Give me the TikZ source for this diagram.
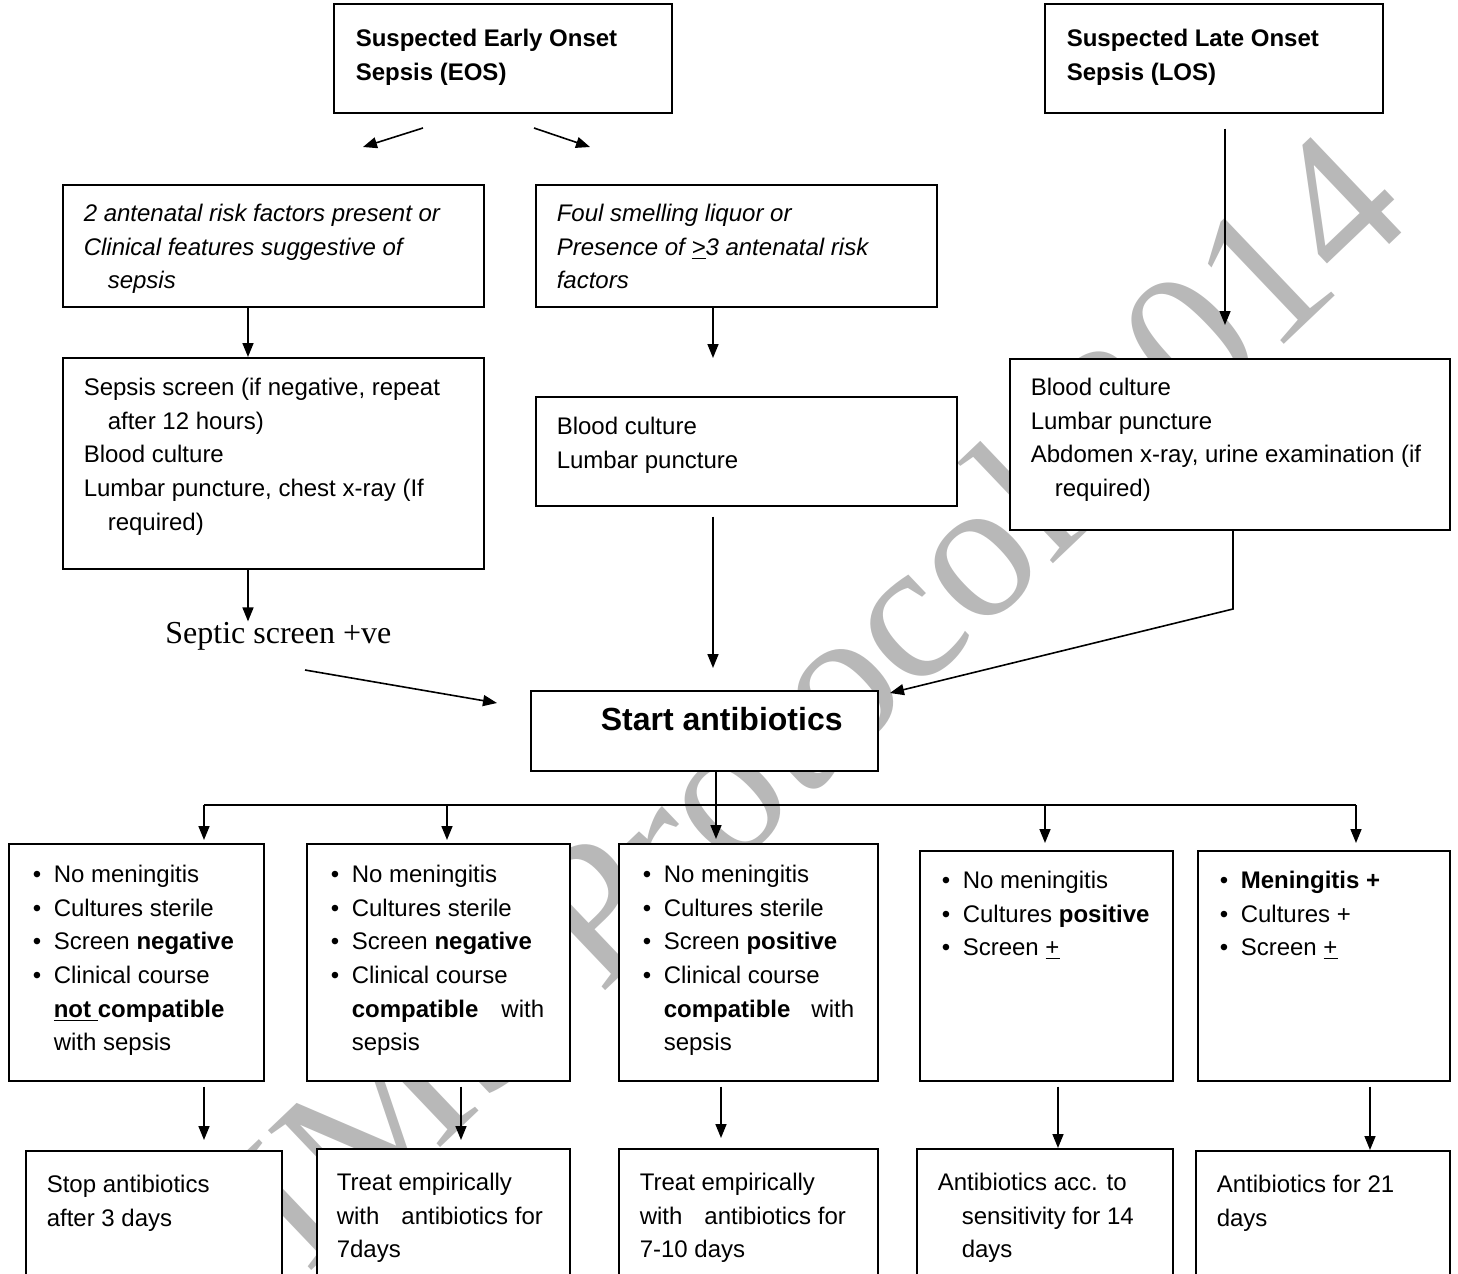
\documentclass[tikz,border=0pt]{standalone}
\usepackage{fontspec}
\setmainfont{Liberation Sans}
\newfontfamily\timesfont{Liberation Serif}
\usetikzlibrary{arrows.meta}

\definecolor{watermarkGray}{gray}{0.72}

% box text: width, height, top gap, left pad, lines
\newcommand{\boxText}[5]{\parbox[c][#2][t]{#1}{\fontsize{12pt}{16.8pt}\selectfont\vspace*{#3}\raggedright\leftskip=#4\relax\strut#5}}
\newcommand{\bul}{\makebox[10.5pt][l]{\textbullet}}

\begin{document}
\begin{tikzpicture}[x=0.5pt, y=-0.5pt,
        flowBox/.style={draw, fill=white, line width=0.8pt, inner sep=0pt, anchor=north west},
        flowArrow/.style={-{Triangle[length=7pt,width=5.5pt]}, line width=0.8pt}]
    \useasboundingbox (0,0) rectangle (1458,1274);
    \clip (0,0) rectangle (1458,1274);

    % watermark
    \node[rotate=43.6, text=watermarkGray, inner sep=0pt, font=\timesfont\fontsize{100pt}{100pt}\selectfont] (watermark) at (738,770) {AIIMS Protocol 2014};

    % top row
    \node[flowBox, font=\bfseries] (earlyOnset) at (333,3) {\boxText{169pt}{54.5pt}{9.7pt}{11pt}{Suspected Early Onset\\Sepsis (EOS)}};
    \node[flowBox, font=\bfseries] (lateOnset) at (1044,3) {\boxText{169pt}{54.5pt}{9.7pt}{11pt}{Suspected Late Onset\\Sepsis (LOS)}};

    % early onset branches
    \node[flowBox, font=\itshape] (riskFactors) at (62,184) {\boxText{210.5pt}{61pt}{6.7pt}{10.5pt}{2 antenatal risk factors present or\\Clinical features suggestive of\\\hspace*{12pt}sepsis}};
    \node[flowBox, font=\itshape] (foulLiquor) at (535,184) {\boxText{200.5pt}{61pt}{6.7pt}{10.5pt}{Foul smelling liquor or\\Presence of \underline{>}3 antenatal risk\\factors}};

    % investigations
    \node[flowBox] (sepsisScreen) at (62,357) {\boxText{210.5pt}{105.5pt}{7.2pt}{10.5pt}{Sepsis screen (if negative, repeat\\\hspace*{12pt}after 12 hours)\\Blood culture\\Lumbar puncture, chest x-ray (If\\\hspace*{12pt}required)}};
    \node[flowBox] (eosCultures) at (535,396) {\boxText{210.5pt}{54.5pt}{7.2pt}{10.5pt}{Blood culture\\Lumbar puncture}};
    \node[flowBox] (losCultures) at (1009,358) {\boxText{220pt}{85.5pt}{6.7pt}{10.5pt}{Blood culture\\Lumbar puncture\\Abdomen x-ray, urine examination (if\\\hspace*{12pt}required)}};

    \node[anchor=base west, inner sep=0pt, font=\timesfont\fontsize{16pt}{18pt}\selectfont] (septicScreen) at (165,643) {Septic screen +ve};

    \node[flowBox, font=\bfseries] (startAntibiotics) at (530,690) {\boxText{173.5pt}{40pt}{8.2pt}{35pt}{\fontsize{16pt}{18pt}\selectfont Start antibiotics}};

    % outcomes
    \node[flowBox] (outcomeA) at (8,843) {\boxText{127.5pt}{118.5pt}{7.7pt}{12pt}{\bul No meningitis\\\bul Cultures sterile\\\bul Screen \textbf{negative}\\\bul Clinical course\\\hspace*{10.5pt}\textbf{\underline{not }compatible}\\\hspace*{10.5pt}with sepsis}};
    \node[flowBox] (outcomeB) at (306,843) {\boxText{131.5pt}{118.5pt}{7.7pt}{12pt}{\bul No meningitis\\\bul Cultures sterile\\\bul Screen \textbf{negative}\\\bul Clinical course\\\hspace*{10.5pt}\textbf{compatible}\hspace{11.5pt}with\\\hspace*{10.5pt}sepsis}};
    \node[flowBox] (outcomeC) at (618,843) {\boxText{129.5pt}{118.5pt}{7.7pt}{12pt}{\bul No meningitis\\\bul Cultures sterile\\\bul Screen \textbf{positive}\\\bul Clinical course\\\hspace*{10.5pt}\textbf{compatible}\hspace{10.5pt}with\\\hspace*{10.5pt}sepsis}};
    \node[flowBox] (outcomeD) at (919,850) {\boxText{126.5pt}{115pt}{7.2pt}{11pt}{\bul No meningitis\\\bul Cultures \textbf{positive}\\\bul Screen \underline{+}}};
    \node[flowBox] (outcomeE) at (1197,850) {\boxText{126pt}{115pt}{7.2pt}{11pt}{\bul \textbf{Meningitis +}\\\bul Cultures +\\\bul Screen \underline{+}}};

    % treatment
    \node[flowBox] (finalA) at (25,1150) {\boxText{128pt}{75pt}{9.2pt}{10.5pt}{Stop antibiotics\\after 3 days}};
    \node[flowBox] (finalB) at (316,1148) {\boxText{126.5pt}{76pt}{9.2pt}{10pt}{Treat empirically\\with\hspace{11pt}antibiotics for\\7days}};
    \node[flowBox] (finalC) at (618,1148) {\boxText{129.5pt}{76pt}{9.2pt}{10.5pt}{Treat empirically\\with\hspace{11pt}antibiotics for\\7-10 days}};
    \node[flowBox] (finalD) at (916,1148) {\boxText{128pt}{76pt}{9.2pt}{10.5pt}{Antibiotics acc. to\\\hspace*{12pt}sensitivity for 14\\\hspace*{12pt}days}};
    \node[flowBox] (finalE) at (1195,1150) {\boxText{127pt}{75pt}{9.2pt}{10.5pt}{Antibiotics for 21\\days}};

    % free arrow ends
    \coordinate (eosSplitLeft) at (423,128);
    \coordinate (riskTip) at (363,147);
    \coordinate (eosSplitRight) at (534,128);
    \coordinate (foulTip) at (590,147);
    \coordinate (septicTail) at (305,670);
    \coordinate (startTip) at (497,703);
    \coordinate (losBend) at (1233,609);
    \coordinate (losTip) at (890,693);
    \coordinate (busLeft) at (204,805);
    \coordinate (busRight) at (1356,805);

    \draw[flowArrow] (eosSplitLeft) -- (riskTip);
    \draw[flowArrow] (eosSplitRight) -- (foulTip);
    \draw[flowArrow, shorten <=7.5pt, shorten >=16.5pt] (1225,0 |- lateOnset.south) -- (1225,0 |- losCultures.north);

    \draw[flowArrow] (248,0 |- riskFactors.south) -- (248,0 |- sepsisScreen.north);
    \draw[flowArrow, shorten >=19pt] (713,0 |- foulLiquor.south) -- (713,0 |- eosCultures.north);

    \draw[flowArrow] (248,0 |- sepsisScreen.south) -- (248,0 |- septicScreen.north);
    \draw[flowArrow] (septicTail) -- (startTip);
    \draw[flowArrow, shorten <=5pt, shorten >=11pt] (713,0 |- eosCultures.south) -- (713,0 |- startAntibiotics.north);
    \draw[flowArrow] (1233,0 |- losCultures.south) -- (losBend) -- (losTip);

    % branching to outcomes
    \draw[flowArrow, shorten >=2pt] (716,0 |- startAntibiotics.south) -- (716,0 |- outcomeC.north);
    \draw[line width=0.8pt] (busLeft) -- (busRight);
    \foreach \x/\target/\gap in {204/outcomeA/1.5pt, 447/outcomeB/1.5pt, 1045/outcomeD/3.5pt, 1356/outcomeE/3.5pt}
        \draw[flowArrow, shorten >=\gap] (\x,805) -- (\x,0 |- \target.north);

    \foreach \x/\from/\to/\gap in {204/outcomeA/finalA/5pt, 461/outcomeB/finalB/4pt, 721/outcomeC/finalC/5pt, 1058/outcomeD/finalD/0pt, 1370/outcomeE/finalE/0pt}
        \draw[flowArrow, shorten <=2.5pt, shorten >=\gap] (\x,0 |- \from.south) -- (\x,0 |- \to.north);
\end{tikzpicture}
\end{document}
